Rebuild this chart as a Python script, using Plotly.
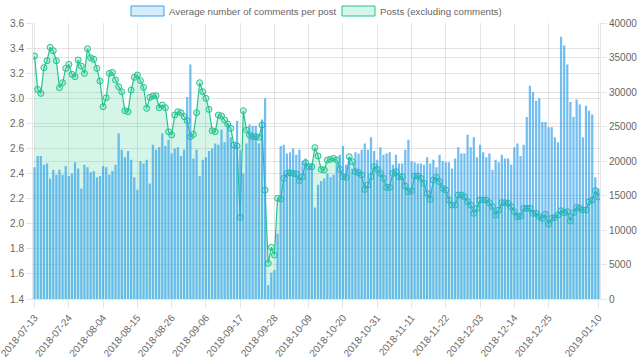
import plotly.graph_objects as go
import pandas as pd

dates = [d.strftime("%Y-%m-%d") for d in pd.date_range("2018-07-13", "2019-01-10", freq="D")]

avg_comments = [
    2.45, 2.54, 2.54, 2.47, 2.48, 2.36, 2.43, 2.39, 2.43, 2.39, 2.46, 2.38, 2.40, 2.49, 2.44, 2.28,
    2.47, 2.45, 2.41, 2.42, 2.37, 2.38, 2.46, 2.45, 2.39, 2.42, 2.47, 2.72, 2.59, 2.53, 2.58,
    2.51, 2.37, 2.27, 2.50, 2.48, 2.51, 2.32, 2.63, 2.59, 2.61, 2.72, 2.62, 2.67, 2.56, 2.60,
    2.61, 2.54, 2.59, 3.01, 3.27, 2.52, 2.59, 2.38, 2.51, 2.53, 2.58, 2.60, 2.64, 2.63, 2.75,
    2.65, 2.80, 2.69, 2.62, 2.82, 2.59, 2.40, 2.64, 2.79, 2.78, 2.78, 2.64, 2.83, 3.00, 1.51,
    1.61, 1.63, 1.92, 2.62, 2.63, 2.56, 2.57, 2.60, 2.55, 2.59, 2.50, 2.52, 2.46, 2.48, 2.13,
    2.31, 2.34, 2.36, 2.40, 2.37, 2.39, 2.48, 2.55, 2.62, 2.47, 2.53, 2.44, 2.57, 2.56, 2.59,
    2.64, 2.59, 2.69, 2.58, 2.51, 2.61, 2.55, 2.56, 2.57, 2.47, 2.55, 2.48, 2.48, 2.59, 2.67, 2.50,
    2.49, 2.48, 2.48, 2.47, 2.53, 2.48, 2.51, 2.45, 2.55, 2.50, 2.49, 2.49, 2.44, 2.52, 2.61,
    2.56, 2.56, 2.71, 2.61, 2.69, 2.53, 2.63, 2.57, 2.53, 2.56, 2.43, 2.51, 2.49, 2.55, 2.52,
    2.52, 2.47, 2.61, 2.64, 2.54, 2.63, 2.85, 3.10, 3.05, 2.98, 3.00, 2.81, 2.81, 2.77, 2.77,
    2.69, 2.65, 3.49, 3.42, 3.27, 2.97, 2.85, 2.99, 2.95, 2.69, 2.94, 2.90, 2.87, 2.37, 2.28,
]

posts = [
    35210, 30380, 29800, 33520, 34530, 36470, 35980, 34530, 30620, 31350, 33420, 34000, 32550,
    32220, 34630, 33760, 32700, 36270, 34970, 34730, 33420, 31590, 27870, 29170, 32700, 32840,
    31730, 30770, 30040, 27290, 27140,
    30280, 32120, 32460, 31640, 30670, 27630, 29220, 29410, 29460, 27720, 28110, 27720, 24250,
    23760, 26660, 27140, 27000, 26420, 25840, 23520, 23860, 27000, 31350, 30040, 29080, 27480,
    24390, 24250, 26660, 26520,
    25940, 25360, 24730, 22310, 22170, 11830, 27290, 24490, 23760, 23520, 23520, 23430, 25210,
    15790, 5170, 7490, 6380, 14590, 14490, 17480, 18210, 18310, 18210, 18110, 17150, 17730,
    19750, 19180, 19180, 21930,
    20720, 18790, 18690, 20140, 20240, 20380, 20140, 18790, 17730, 17630, 20620, 19900, 18450,
    18310, 17970, 15890, 16520, 17730, 19180, 18790, 18210, 17480, 16180, 16180, 18210, 18450,
    17730, 17730, 16370, 15550, 15700,
    17820, 17820, 17480, 16760, 15310, 14440, 17240, 17630, 17000, 16040, 15790, 14350, 13620,
    13620, 15070, 15070, 14830, 14100, 13620, 12410, 13140, 14350, 14350, 14350, 13960, 13380,
    12170, 12900, 13960, 13960,
    13860, 13380, 12650, 11930, 12030, 13140, 13140, 13140, 12410, 12410, 11930, 11690, 12270,
    10870, 11690, 11830, 12170, 12800, 12510, 12650, 11300, 12510, 13280, 13140, 12900, 12900,
    14100, 14350, 15700, 14830,
]

x_tick_labels = ["2018-07-13", "2018-07-24", "2018-08-04", "2018-08-15", "2018-08-26",
                 "2018-09-06", "2018-09-17", "2018-09-28", "2018-10-09", "2018-10-20",
                 "2018-10-31", "2018-11-11", "2018-11-22", "2018-12-03", "2018-12-14",
                 "2018-12-25", "2019-01-10"]
left_ticks = [1.4, 1.6, 1.8, 2.0, 2.2, 2.4, 2.6, 2.8, 3.0, 3.2, 3.4, 3.6]
right_ticks = [0, 5000, 10000, 15000, 20000, 25000, 30000, 35000, 40000]
series_names = ["Average number of comments per post", "Posts (excluding comments)"]

BLUE = "rgb(54,162,235)"
GREEN = "rgb(36,196,140)"
FONT = "Liberation Sans, Arial, sans-serif"
GRID = "rgba(0,0,0,0.1)"

FIG_W, FIG_H = 640, 361

fig = go.Figure()
fig.add_trace(go.Scatter(
    x=dates, y=posts, yaxis="y", mode="lines+markers",
    line=dict(color=GREEN, width=1.2),
    marker=dict(symbol="circle", size=6, color="rgba(46,204,150,0.25)",
                line=dict(color=GREEN, width=1)),
    fill="tozeroy", fillcolor="rgba(46,204,140,0.2)",
    name=series_names[1], showlegend=False, hoverinfo="skip",
))
fig.add_trace(go.Bar(
    x=dates, y=avg_comments, yaxis="y2",
    marker=dict(color="rgba(54,162,235,0.7)", line=dict(width=0)),
    name=series_names[0], showlegend=False, hoverinfo="skip",
))

L, R, T, B = 33, 600, 23, 299
W = R - L
H = B - T


def px(xp):
    return (xp - L) / W


def py(yp):
    return (B - yp) / H


# legend drawn like Chart.js
fig.add_shape(type="rect", xref="paper", yref="paper", x0=px(131), x1=px(164), y0=py(16), y1=py(6),
              fillcolor="rgba(54,162,235,0.2)", line=dict(color=BLUE, width=1))
fig.add_shape(type="rect", xref="paper", yref="paper", x0=px(342), x1=px(375), y0=py(16), y1=py(6),
              fillcolor="rgba(46,204,140,0.2)", line=dict(color=GREEN, width=1))
fig.add_annotation(xref="paper", yref="paper", x=px(167), y=py(11), text=series_names[0],
                   showarrow=False, xanchor="left", yanchor="middle",
                   font=dict(family=FONT, size=9.7, color="#666"))
fig.add_annotation(xref="paper", yref="paper", x=px(378), y=py(11), text=series_names[1],
                   showarrow=False, xanchor="left", yanchor="middle",
                   font=dict(family=FONT, size=9.7, color="#666"))

fig.update_layout(
    width=FIG_W, height=FIG_H,
    margin=dict(l=L, r=FIG_W - R, t=T, b=FIG_H - B),
    paper_bgcolor="white", plot_bgcolor="white",
    bargap=0.28,
    font=dict(family=FONT, size=10, color="#666"),
    xaxis=dict(type="category", tickmode="array", tickvals=x_tick_labels, ticktext=x_tick_labels,
               tickangle=-50, showgrid=True, gridcolor=GRID, ticks="outside", ticklen=8,
               tickcolor=GRID, showline=True, linecolor=GRID, zeroline=False, automargin=False,
               tickfont=dict(family=FONT, size=10, color="#666"),
               range=[-0.5, len(dates) - 0.5]),
    yaxis=dict(side="right", range=[0, 40000], tickmode="array", tickvals=right_ticks,
               tickformat="d", showgrid=True, gridcolor=GRID, zeroline=False, automargin=False,
               ticks="outside", ticklen=6, tickcolor=GRID, showline=True, linecolor=GRID,
               tickfont=dict(family=FONT, size=10, color="#666")),
    yaxis2=dict(side="left", overlaying="y", range=[1.4, 3.6], tickmode="array",
                tickvals=left_ticks, tickformat=".1f", showgrid=True, gridcolor=GRID,
                zeroline=False, ticks="outside", ticklen=6, tickcolor=GRID, showline=True,
                automargin=False, linecolor=GRID,
                tickfont=dict(family=FONT, size=10, color="#666")),
)

fig.write_html("out.html", config={"displayModeBar": False},
               post_script="document.body.style.margin='0';document.body.style.overflow='hidden';")
